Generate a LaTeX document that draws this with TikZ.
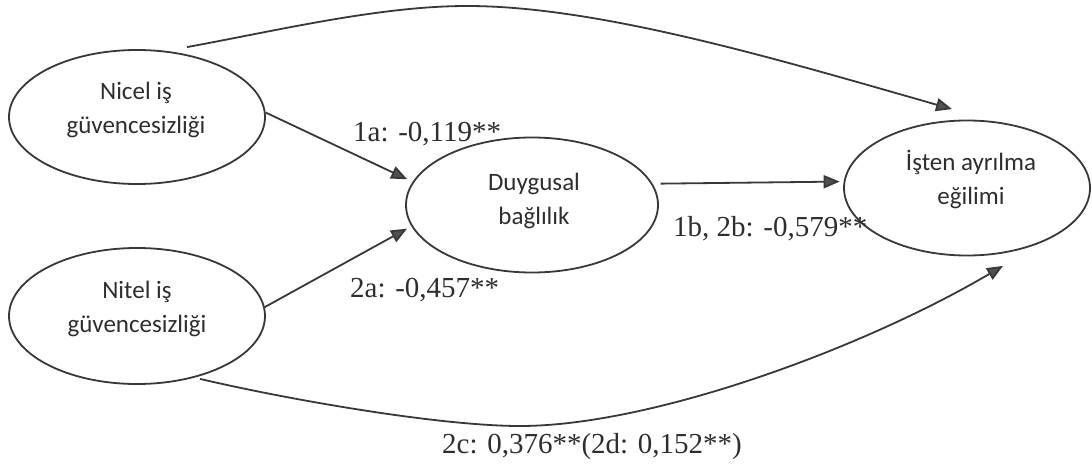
\documentclass[tikz,border=0pt]{standalone}
\usepackage{fontspec}
\setmainfont{Liberation Serif}
\newfontfamily\calib{Carlito}
\usetikzlibrary{arrows.meta,shapes.geometric}
\definecolor{ln}{HTML}{383838}
\definecolor{tipc}{HTML}{505050}
\definecolor{tx}{HTML}{2E2E2E}
\begin{document}
\begin{tikzpicture}[x=1pt,y=-1pt,
  ell/.style={draw=ln, line width=1.8pt, ellipse, inner sep=0pt},
  etxt/.style={font=\calib\fontsize{25}{34}\selectfont, align=center, text=tx, inner sep=0pt},
  lbl/.style={font=\fontsize{29}{34}\selectfont, anchor=base west, text=tx, inner sep=0pt},
  arr/.style={draw=ln, line width=1.8pt, -{Triangle[length=16pt,width=13pt,fill=tipc]}}]
\fill[white] (0,0) rectangle (1092,468);
\useasboundingbox (0,0) rectangle (1092,468);

\node[ell, minimum width=256pt, minimum height=134pt] (nicel) at (137,117) {};
\node[etxt] (nicelT) at (136,110) {Nicel iş\\güvencesizliği};
\node[ell, minimum width=256pt, minimum height=136pt] (nitel) at (137,316) {};
\node[etxt] (nitelT) at (137,309) {Nitel iş\\güvencesizliği};
\node[ell, minimum width=252pt, minimum height=135pt] (duyg) at (532,205) {};
\node[etxt] (duygT) at (534,201) {Duygusal\\bağlılık};
\node[ell, minimum width=246pt, minimum height=135pt] (isten) at (967,188) {};
\node[etxt] (istenT) at (971,179) {İşten ayrılma\\eğilimi};

\coordinate (topS) at ([shift={(50,-2)}]nicel.north);
\coordinate (topE) at ([shift={(-15,-10.5)}]isten.north);
\coordinate (botS) at ([shift={(63,-6)}]nitel.south);
\coordinate (botE) at ([shift={(36,9.5)}]isten.south);

\draw[arr, shorten >=6pt] (nicel.2) -- (duyg.169);
\draw[arr, shorten >=5pt] (nitel.4) -- (duyg.190);
\draw[arr, shorten <=8pt, shorten >=4pt] (duyg.10) -- (isten.177);
\draw[arr] (topS) .. controls (280,30) and (380,6) .. (467,6)
  .. controls (600,6) and (780,60) .. (topE);
\draw[arr] (botS) .. controls (290,400) and (440,426) .. (520,426)
  .. controls (650,426) and (860,350) .. (botE);

\node[lbl] (l1a) at (353,142) {1a: -0,119**};
\node[lbl] (l2a) at (350,297) {2a: -0,457**};
\node[lbl] (l1b) at (673,236) {1b, 2b: -0,579**};
\node[lbl] (l2c) at (442,453) {2c: 0,376**(2d: 0,152**)};
\end{tikzpicture}
\end{document}
